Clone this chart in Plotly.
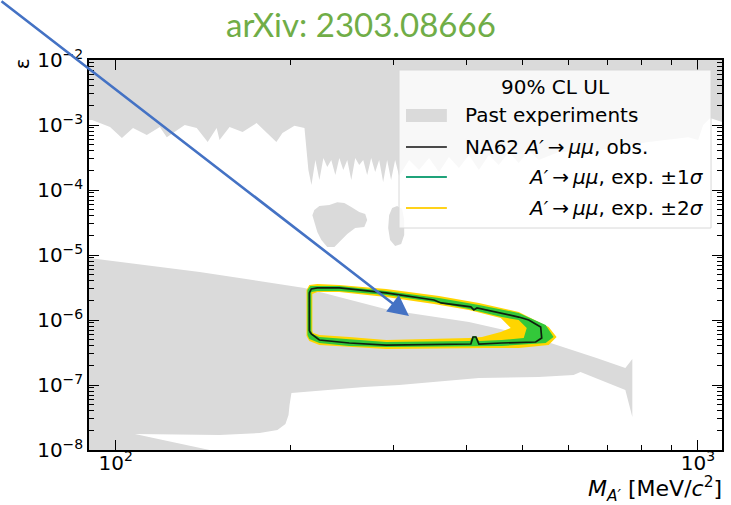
import plotly.graph_objects as go

# ---------------- data ----------------
# Past experiments: upper excluded band (top of plot down to wavy/comb boundary)
past_upper_M = [85, 1150, 1150, 1100, 1049.7, 1021, 1001, 962.6, 822.3, 675.0, 576.5,
                532.8, 512.2, 492.4, 473.3, 455.0, 437.5, 420.6, 404.4, 388.7, 373.6,
                359.2, 345.3, 332.0, 319.1, 306.8, 302.0, 297.2, 292.6, 288.0, 283.5,
                279.1, 274.7, 270.4, 266.2, 262.0, 257.9, 253.9, 249.9, 246.0, 242.2,
                238.4, 234.6, 230.9, 227.4, 223.8, 220.3, 216.9, 214.3, 213.5,
                211.0, 202.8, 193.4, 188.8, 181.5, 174.6, 165.2, 156.9, 150.8, 149.1,
                143.9, 137.8, 131.4, 122.4, 119.1, 113.1, 107.1, 102.5, 97.8, 91.1, 85]
past_upper_eps = [2e-2, 2e-2, 1.11e-3, 1.11e-3, 1.28e-3, 1.0e-3, 5.9e-4, 6.5e-4, 5.5e-4, 4.1e-4, 3.84e-4,
                  2.9e-4, 4.1e-4, 2.6e-4, 3.84e-4, 2.43e-4, 3.46e-4, 2.03e-4, 3.46e-4, 2.18e-4, 3.22e-4,
                  1.89e-4, 3.11e-4, 2.03e-4, 2.9e-4, 1.64e-4, 2.9e-4, 1.43e-4, 2.9e-4, 1.33e-4, 2.9e-4,
                  1.89e-4, 3.11e-4, 1.70e-4, 2.9e-4, 2.43e-4, 3.11e-4, 1.43e-4, 2.9e-4, 2.03e-4, 3.11e-4,
                  1.70e-4, 2.9e-4, 2.26e-4, 3.11e-4, 1.43e-4, 2.9e-4, 1.19e-4, 2.03e-4, 2.9e-4,
                  9.0e-4, 9.7e-4, 7.5e-4, 5.5e-4, 7.8e-4, 1.07e-3, 7.8e-4, 9.3e-4, 5.9e-4, 9.0e-4,
                  5.5e-4, 9.0e-4, 1.0e-3, 6.5e-4, 9.3e-4, 7.0e-4, 9.0e-4, 6.3e-4, 9.3e-4, 1.19e-3, 1.19e-3]

# Past experiments: two islands near 1e-5 .. 1e-4
past_blob1_M = [217.7, 219.4, 223.8, 232.8, 240.2, 247.0, 253.9, 262.0, 268.3, 270.4, 267.3,
                257.9, 249.9, 244.1, 237.5, 230.9, 225.6, 222.0, 219.4]
past_blob1_eps = [4.1e-5, 4.92e-5, 5.67e-5, 5.9e-5, 6.5e-5, 6.3e-5, 5.5e-5, 4.59e-5, 4.28e-5, 3.45e-5, 2.70e-5,
                  2.60e-5, 2.10e-5, 1.70e-5, 1.33e-5, 1.33e-5, 1.70e-5, 2.26e-5, 3.22e-5]
past_blob2_M = [294.9, 298.4, 304.4, 310.5, 313.0, 313.0, 309.3, 302.0, 296.0, 293.8]
past_blob2_eps = [4.1e-5, 5.28e-5, 5.67e-5, 5.1e-5, 3.45e-5, 2.03e-5, 1.48e-5, 1.38e-5, 1.7e-5, 2.6e-5]

# Past experiments: lower excluded band
past_lower_M = [85, 90.0, 139.4, 211.0, 294.9, 404.4, 473.3, 558.6, 669.7, 750.6, 771.6, 771.6,
                750.6, 648.9, 628.6, 611.6, 532.8, 420.6, 306.8, 267.3, 206.9, 200.4, 198.9,
                198.1, 195.7, 189.6, 176.7, 150.8, 107.9, 145.0, 85]
past_lower_eps = [9.2e-6, 9.0e-6, 5.48e-6, 3.11e-6, 1.43e-6, 9.32e-7, 6.77e-7, 4.43e-7, 2.60e-7, 1.83e-7, 2.51e-7, 3.22e-8,
                  8.38e-8, 1.43e-7, 1.58e-7, 1.43e-7, 1.33e-7, 1.28e-7, 1.0e-7, 9.3e-8, 7.8e-8, 7.5e-8, 4.92e-8,
                  3.45e-8, 2.51e-8, 2.03e-8, 1.83e-8, 1.70e-8, 1.76e-8, 1.0e-8, 1.0e-8]

# NA62 observed 90% CL upper-limit contour
obs_M = [215.1, 215.1, 216.8, 222.0, 242.2, 291.4, 352.2, 362.1, 407.4, 412.3, 417.3, 460.4, 492.4,
         512.2, 537.0, 539.2, 526.5, 460.4, 420.6, 415.7, 410.9, 407.4, 291.4, 251.9, 223.8, 216.8, 215.1]
obs_eps = [6.77e-7, 2.61e-6, 3.0e-6, 3.11e-6, 3.11e-6, 2.61e-6, 2.03e-6, 1.83e-6, 1.59e-6, 1.43e-6, 1.53e-6, 1.28e-6, 1.11e-6,
           1.0e-6, 7.8e-7, 5.29e-7, 4.59e-7, 4.43e-7, 4.27e-7, 5.48e-7, 5.48e-7, 4.27e-7, 4.12e-7, 4.43e-7, 4.92e-7, 6.09e-7, 6.77e-7]

# Expected +-2 sigma band (outer and inner contour)
exp2_out_M = [212.7, 212.7, 215.1, 222.0, 242.2, 291.4, 359.2, 420.6, 492.4, 554.2, 571.9, 554.2, 492.4,
              432.5, 291.4, 251.9, 223.8, 215.1]
exp2_out_eps = [5.68e-7, 2.90e-6, 3.46e-6, 3.58e-6, 3.46e-6, 3.0e-6, 2.34e-6, 1.83e-6, 1.33e-6, 7.8e-7, 5.48e-7, 4.12e-7, 3.71e-7,
                3.71e-7, 3.58e-7, 3.84e-7, 4.12e-7, 4.75e-7]
exp2_in_M = [217.7, 217.7, 222.0, 242.2, 291.4, 352.2, 404.4, 437.5, 458.6, 477.0, 458.6, 425.7, 404.4,
             291.4, 251.9, 223.8, 218.5]
exp2_in_eps = [6.77e-7, 2.51e-6, 2.70e-6, 2.70e-6, 2.26e-6, 1.76e-6, 1.43e-6, 1.19e-6, 1.07e-6, 7.53e-7, 6.54e-7, 5.48e-7, 5.29e-7,
               4.92e-7, 5.48e-7, 5.88e-7, 6.31e-7]

# Expected +-1 sigma band (outer and inner contour)
exp1_out_M = [213.5, 213.5, 216.0, 222.0, 242.2, 291.4, 359.2, 420.6, 492.4, 547.7, 565.1, 547.7, 460.4,
              291.4, 251.9, 223.8, 215.1]
exp1_out_eps = [5.88e-7, 2.90e-6, 3.34e-6, 3.34e-6, 3.34e-6, 2.80e-6, 2.18e-6, 1.70e-6, 1.28e-6, 8.38e-7, 5.48e-7, 4.43e-7, 3.98e-7,
                3.84e-7, 3.98e-7, 4.43e-7, 5.10e-7]
exp1_in_M = [216.8, 216.8, 222.0, 242.2, 291.4, 352.2, 404.4, 460.4, 492.4, 508.2, 502.2, 460.4, 420.6,
             415.7, 410.9, 406.0, 291.4, 251.9, 223.8, 217.7]
exp1_in_eps = [6.77e-7, 2.70e-6, 2.80e-6, 2.80e-6, 2.43e-6, 1.89e-6, 1.48e-6, 1.11e-6, 1.0e-6, 7.53e-7, 5.29e-7, 4.92e-7, 4.75e-7,
               5.68e-7, 5.68e-7, 4.75e-7, 4.59e-7, 5.10e-7, 5.48e-7, 6.09e-7]

# axis ticks
x_major = [100, 1000]
x_major_text = ["10<sup>2</sup>", "10<sup>3</sup>"]
x_minor = [200, 300, 400, 500, 600, 700, 800, 900]
y_major = [1e-8, 1e-7, 1e-6, 1e-5, 1e-4, 1e-3, 1e-2]
y_major_text = ["10<sup>\u22128</sup>", "10<sup>\u22127</sup>", "10<sup>\u22126</sup>", "10<sup>\u22125</sup>",
                "10<sup>\u22124</sup>", "10<sup>\u22123</sup>", "10<sup>\u22122</sup>"]
y_minor = [m * 10.0 ** e for e in range(-8, -2) for m in range(2, 10)]

legend_labels = ["Past experiments",
                 "NA62 <i>A\u2032</i>\u2009\u2192\u2009<i>\u03bc\u03bc</i>, obs.",
                 "<i>A\u2032</i>\u2009\u2192\u2009<i>\u03bc\u03bc</i>, exp. \u00b11<i>\u03c3</i>",
                 "<i>A\u2032</i>\u2009\u2192\u2009<i>\u03bc\u03bc</i>, exp. \u00b12<i>\u03c3</i>"]

# ---------------- helpers ----------------
def closed(a):
    return list(a) + [a[0]]

def join_segments(*segs):
    out = []
    for i, s in enumerate(segs):
        if i:
            out.append(None)
        out += closed(s)
    return out

def ring(outer, inner):
    # one continuous path: outer loop, bridge to the inner loop run backwards, bridge back -> hole
    return closed(outer) + closed(list(inner)[::-1]) + [outer[0]]

GRAY = "#dadada"
YELLOW = "#ffd500"
GREEN = "#33c83a"

fig = go.Figure()
fig.add_trace(go.Scatter(
    x=join_segments(past_upper_M, past_blob1_M, past_blob2_M, past_lower_M),
    y=join_segments(past_upper_eps, past_blob1_eps, past_blob2_eps, past_lower_eps),
    mode="lines", fill="toself", fillcolor=GRAY, line=dict(width=0, color=GRAY),
    hoverinfo="skip", showlegend=False))
fig.add_trace(go.Scatter(
    x=ring(exp2_out_M, exp2_in_M), y=ring(exp2_out_eps, exp2_in_eps),
    mode="lines", fill="toself", fillcolor=YELLOW, line=dict(width=0, color=YELLOW),
    hoverinfo="skip", showlegend=False))
fig.add_trace(go.Scatter(
    x=ring(exp1_out_M, exp1_in_M), y=ring(exp1_out_eps, exp1_in_eps),
    mode="lines", fill="toself", fillcolor=GREEN, line=dict(width=0, color=GREEN),
    hoverinfo="skip", showlegend=False))
fig.add_trace(go.Scatter(
    x=obs_M, y=obs_eps, mode="lines", line=dict(width=1.7, color="#0f1f0f"),
    hoverinfo="skip", showlegend=False))

# ---------------- layout ----------------
W, H = 731, 505
L, R, T, B = 89, 7, 60, 55
PW, PH = W - L - R, H - T - B

def px(x):
    return (x - L) / PW

def py(y):
    return (H - B - y) / PH

FONT = "DejaVu Sans"
axis_common = dict(showgrid=False, zeroline=False, showline=True, linecolor="black", linewidth=1.5,
                   mirror="ticks", ticks="inside", ticklen=10, tickwidth=1.3, tickcolor="black",
                   tickfont=dict(family=FONT, size=20, color="black"), tickmode="array")

fig.update_layout(
    width=W, height=H, margin=dict(l=L, r=R, t=T, b=B),
    paper_bgcolor="white", plot_bgcolor="white", showlegend=False,
    xaxis=dict(type="log", range=[1.9542, 3.0414], tickvals=x_major, ticktext=x_major_text,
               ticklabelstandoff=-6,
               minor=dict(ticks="inside", ticklen=5, tickwidth=1, tickcolor="black", tickvals=x_minor),
               **axis_common),
    yaxis=dict(type="log", range=[-8, -2], tickvals=y_major, ticktext=y_major_text,
               minor=dict(ticks="inside", ticklen=5, tickwidth=1, tickcolor="black", tickvals=y_minor),
               **axis_common),
)

shapes = []
# legend frame
shapes.append(dict(type="rect", xref="paper", yref="paper", x0=px(400), x1=px(713), y0=py(228), y1=py(70),
                   fillcolor="rgba(255,255,255,0.8)", line=dict(color="#d8d8d8", width=1), layer="above"))
# legend handles
shapes.append(dict(type="rect", xref="paper", yref="paper", x0=px(407), x1=px(448), y0=py(122), y1=py(109),
                   fillcolor=GRAY, line=dict(width=0), layer="above"))
for yy, col in [(147, "#4a4a4a"), (177, "#1fa37a"), (208, "#ffd21a")]:
    shapes.append(dict(type="line", xref="paper", yref="paper", x0=px(407), x1=px(448), y0=py(yy), y1=py(yy),
                       line=dict(color=col, width=2), layer="above"))
fig.update_layout(shapes=shapes)

ann = []
ann.append(dict(text="arXiv: 2303.08666", xref="paper", yref="paper", x=px(362), y=py(24),
                xanchor="center", yanchor="middle", showarrow=False,
                font=dict(family="Lato", size=33, color="#70ad47")))
ann.append(dict(text="\u03b5", xref="paper", yref="paper", x=px(22), y=py(64), textangle=-90,
                xanchor="center", yanchor="middle", showarrow=False,
                font=dict(family=FONT, size=20, color="black")))
ann.append(dict(text="<i>M</i><sub><i>A\u2032</i></sub> [MeV/<i>c</i><sup>2</sup>]", xref="paper", yref="paper",
                x=px(726), y=py(489), xanchor="right", yanchor="middle", showarrow=False,
                font=dict(family=FONT, size=22, color="black")))
ann.append(dict(text="90% CL UL", xref="paper", yref="paper", x=px(557), y=py(87),
                xanchor="center", yanchor="middle", showarrow=False,
                font=dict(family=FONT, size=20, color="black")))
ann.append(dict(text=legend_labels[0], xref="paper", yref="paper", x=px(464), y=py(115),
                xanchor="left", yanchor="middle", showarrow=False, font=dict(family=FONT, size=20, color="black")))
ann.append(dict(text=legend_labels[1], xref="paper", yref="paper", x=px(464), y=py(147),
                xanchor="left", yanchor="middle", showarrow=False, font=dict(family=FONT, size=20, color="black")))
ann.append(dict(text=legend_labels[2], xref="paper", yref="paper", x=px(708), y=py(177),
                xanchor="right", yanchor="middle", showarrow=False, font=dict(family=FONT, size=20, color="black")))
ann.append(dict(text=legend_labels[3], xref="paper", yref="paper", x=px(708), y=py(208),
                xanchor="right", yanchor="middle", showarrow=False, font=dict(family=FONT, size=20, color="black")))
# blue arrow pointing into the newly excluded region
ann.append(dict(text="", xref="paper", yref="paper", x=px(410), y=py(316),
                axref="pixel", ayref="pixel", ax=-410, ay=-316, showarrow=True,
                arrowhead=2, arrowsize=1.6, arrowwidth=2.6, arrowcolor="#4472c4", standoff=0))
fig.update_layout(annotations=ann)

fig.write_html("out.html")
